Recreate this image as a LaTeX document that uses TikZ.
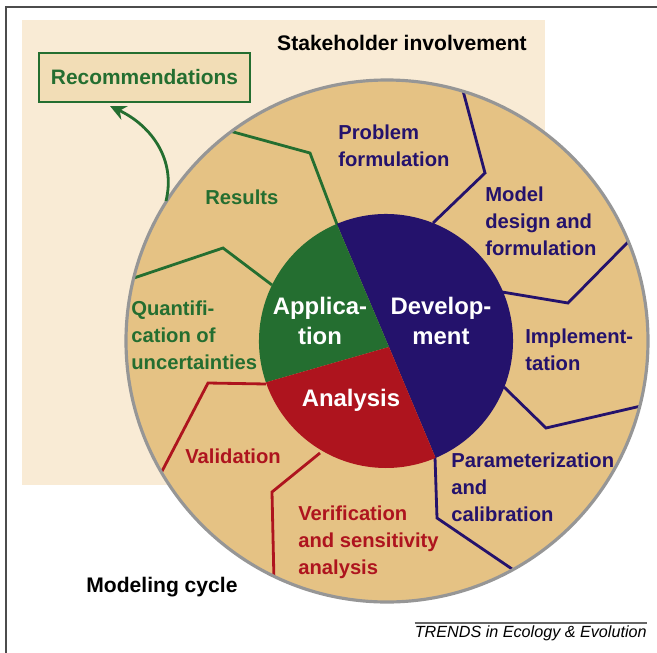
\documentclass[tikz,border=0pt]{standalone}
\usepackage{fontspec}
\setmainfont{Liberation Sans}
\definecolor{creambg}{RGB}{249, 235, 213}
\definecolor{ringtan}{RGB}{229, 194, 132}
\definecolor{boxtan}{RGB}{242, 221, 182}
\definecolor{devblue}{RGB}{36, 18, 108}
\definecolor{appgreen}{RGB}{36, 110, 48}
\definecolor{anared}{RGB}{174, 20, 30}
\definecolor{rimgray}{RGB}{150, 150, 150}
\usetikzlibrary{arrows.meta, positioning, calc}
\tikzset{
    steplabel/.style={inner sep=0pt, anchor=west, align=left, font=\bfseries\fontsize{11.5}{15.3}\selectfont},
    corelabel/.style={inner sep=0pt, align=center, text=white, font=\bfseries\fontsize{13.6}{17.5}\selectfont},
    titlelabel/.style={inner sep=0pt, font=\bfseries\fontsize{12}{14}\selectfont},
    divider/.style={line width=1.6pt, line join=miter},
    recbox/.style={rectangle, draw=appgreen, fill=boxtan, line width=1.4pt, minimum width=4.22cm, minimum height=0.98cm,
                   text=appgreen, font=\bfseries\fontsize{11.9}{14}\selectfont},
    outarrow/.style={-{Stealth[length=3.2mm, width=3mm]}, line width=1.6pt, appgreen},
}

\begin{document}
\begin{tikzpicture}[x=0.02cm, y=0.02cm]
    \useasboundingbox (0,0) rectangle (657,-653);
    \draw[line width=0.8pt, black!70] (6,-653) -- (6,-7) -- (657,-7);
    \fill[creambg] (22,-20) rectangle (545,-485);

    \node[titlelabel] (stake) at (402,-43) {Stakeholder involvement};
    \node[recbox] (rec) at (144.5,-77.5) {Recommendations};

    % outer ring
    \coordinate (c) at (387,-341);
    \fill[ringtan] (c) circle[radius=261];
    \begin{scope}
        \clip (c) circle[radius=261];
        \draw[divider, appgreen] (338,-227) -- (310,-153) -- (226,-130);
        \draw[divider, appgreen] (272,-285) -- (223,-248) -- (128,-280);
        \draw[divider, anared] (266,-384) -- (208,-383) -- (159,-477);
        \draw[divider, anared] (320,-453) -- (272,-492) -- (274,-582);
        \draw[divider, devblue] (435,-457) -- (437,-518) -- (515,-571);
        \draw[divider, devblue] (504,-387) -- (546,-428) -- (641,-406);
        \draw[divider, devblue] (502,-292) -- (568,-303) -- (629,-241);
        \draw[divider, devblue] (433,-223) -- (485,-173) -- (462,-87);
    \end{scope}
    \draw[rimgray, line width=1.8pt] (c) circle[radius=261];

    % inner disc
    \coordinate (ic) at (386,-341);
    \coordinate (mid) at (389,-347);
    \fill[devblue] (mid) -- ($(ic)+(112.8:127)$) arc[start angle=112.8, end angle=-67, radius=127] -- cycle;
    \fill[appgreen] (mid) -- ($(ic)+(112.8:127)$) arc[start angle=112.8, end angle=199, radius=127] -- cycle;
    \fill[anared] (mid) -- ($(ic)+(199:127)$) arc[start angle=199, end angle=293, radius=127] -- cycle;

    \node[corelabel] (app) at (320,-321) {Applica-\\tion};
    \node[corelabel] (dev) at (441,-321) {Develop-\\ment};
    \node[corelabel] (ana) at (351,-400) {Analysis};

    \node[steplabel, text=devblue] (prob) at (338,-146) {Problem\\formulation};
    \node[steplabel, text=devblue] (design) at (485,-221) {Model\\design and\\formulation};
    \node[steplabel, text=devblue] (impl) at (525,-350) {Implement-\\tation};
    \node[steplabel, text=devblue] (param) at (451,-487) {Parameterization\\and\\calibration};
    \node[steplabel, text=anared] (verif) at (298,-542) {Verification\\and sensitivity\\analysis};
    \node[steplabel, text=anared] (valid) at (185,-456) {Validation};
    \node[steplabel, text=appgreen] (quant) at (131,-335) {Quantifi-\\cation of\\uncertainties};
    \node[steplabel, text=appgreen] (res) at (205,-197) {Results};

    \coordinate (resout) at (166,-201);
    \coordinate (rectip) at (110,-106);
    \draw[outarrow] (resout) .. controls (176,-160) and (152,-126) .. (rectip);

    \node[titlelabel, anchor=west] (cycle) at (86,-587) {Modeling cycle};
    \node[inner sep=0pt, anchor=east, font=\itshape\fontsize{9.2}{11}\selectfont] (trends) at (647,-633) {TRENDS in Ecology \& Evolution};
    \draw[black!60, line width=0.6pt] (trends.west |- 0,-623) -- (647,-623);
\end{tikzpicture}
\end{document}
